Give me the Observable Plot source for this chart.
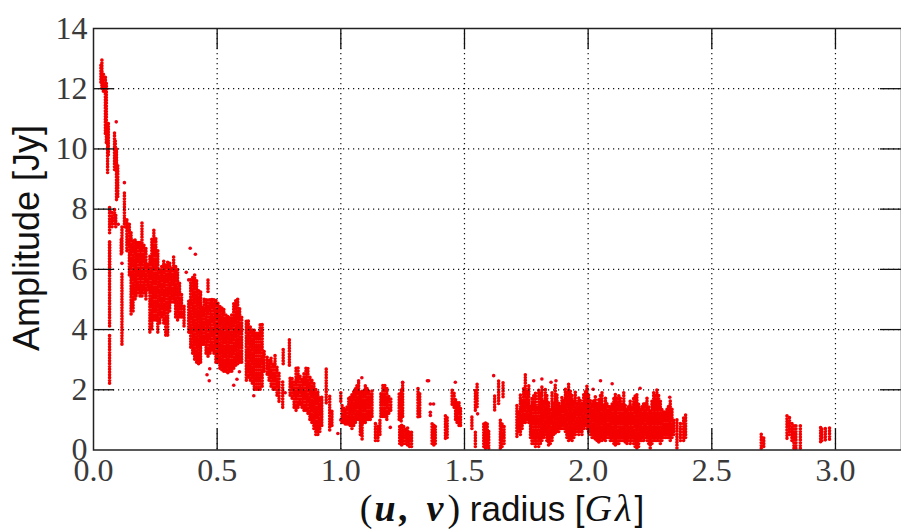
<!DOCTYPE html>
<html><head><meta charset="utf-8">
<script src="https://cdn.jsdelivr.net/npm/d3@7"></script>
<script src="https://cdn.jsdelivr.net/npm/@observablehq/plot@0.6"></script>
<style>html,body{margin:0;padding:0;background:#fff;overflow:hidden}</style>
</head><body><div id="chart"></div>
<script>
const xTicks = [0, 0.5, 1, 1.5, 2, 2.5, 3];
const yTicks = [0, 2, 4, 6, 8, 10, 12, 14];
// Vertical visibility tracks: radius, lowest and highest amplitude
const trackX = [.03,.034,.04,.048,.057,.065,.065,.065,.065,.085,.092,.093,.112,.115,.115,.125,.135,.145,.152,.16,.168,.172,.18,.188,.196,.204,.212,.22,.228,.236,.244,.252,.26,.268,.276,.284,.292,.3,.308,.316,.324,.332,.34,.348,.356,.366,.385,.393,.401,.409,.417,.425,.433,.441,.447,.455,.463,.463,.471,.479,.487,.495,.503,.511,.519,.527,.535,.543,.551,.559,.567,.575,.583,.591,.599,.618,.626,.634,.642,.65,.658,.666,.674,.682,.69,.702,.71,.718,.726,.734,.742,.75,.767,.765,.792,.795,.803,.811,.819,.827,.835,.843,.851,.859,.867,.875,.883,.891,.899,.907,.915,.923,.941,.955,.964,1.0,1.005,1.018,1.032,1.045,1.059,1.072,1.086,1.099,1.113,1.126,1.14,1.15,1.158,1.162,1.17,1.178,1.186,1.194,1.202,1.236,1.244,1.25,1.238,1.246,1.254,1.262,1.27,1.278,1.286,1.312,1.319,1.369,1.376,1.382,1.423,1.43,1.45,1.458,1.464,1.47,1.478,1.484,1.53,1.544,1.544,1.551,1.578,1.585,1.592,1.598,1.622,1.638,1.656,1.645,1.652,1.66,1.712,1.726,1.739,1.746,1.76,1.773,1.787,1.8,1.813,1.827,1.84,1.854,1.867,1.881,1.894,1.908,1.921,1.935,1.948,1.962,1.975,1.989,2.002,2.016,2.029,2.043,2.056,2.07,2.083,2.097,2.11,2.124,2.13,2.144,2.157,2.17,2.184,2.197,2.211,2.224,2.238,2.251,2.265,2.278,2.292,2.305,2.319,2.332,2.346,2.359,2.373,2.386,2.394,2.7,2.71,2.804,2.814,2.824,2.832,2.84,2.858,2.94,2.945,2.959,2.976];
const trackLow = [12.2,12,11.9,10.5,9.2,7.2,6.05,4.1,2.2,9.3,9.3,8.3,6.5,6.55,3.5,7.4,6.6,5.8,4.5,4.6,5,5.1,5.2,5.1,5.1,5.2,5,5.3,3.9,4,4.3,4.3,3.9,4.2,4.4,4.2,3.8,3.8,4.6,4.9,4.9,4.4,4.3,4.4,4.4,4.1,3.9,3.4,3.2,3,2.9,2.85,2.9,3.5,3.5,3.2,3.1,5.25,3.2,3.3,3.2,2.9,2.9,2.7,2.65,2.6,2.6,2.55,2.6,2.6,2.7,2.8,2.85,2.9,2.9,2.3,2.4,2.3,2.2,2,2,2,2,2.1,2.6,2.5,2.3,2.1,2,2,1.8,1.6,2.85,1.4,2.8,1.8,1.7,1.4,1.3,1.4,1.5,1.4,1.3,1.3,1.2,1,.9,.7,.5,.5,.6,.8,1.55,.65,.8,1.6,.9,.85,.85,.7,.9,1,.35,.9,1,1.1,.3,.3,.5,1.1,1.1,1.1,1,1.2,1.3,1,.95,1.1,.2,.15,.2,.2,.15,.1,.1,1.09,1.1,.2,.15,.2,.37,.4,1.5,1.4,1,.9,.8,.8,.7,1.3,.1,1.42,.1,.04,.1,.04,1.31,1.53,1.75,.04,.1,.2,.43,.5,.9,.9,.9,.2,.1,.1,.3,.5,.15,.3,.55,.6,.7,.6,.3,.3,.5,.5,.5,.8,.6,.4,.35,.25,.3,.3,.4,.3,.15,.2,.3,.3,.2,.2,.2,.05,.3,.3,.3,.05,.3,.3,.2,.4,.4,.3,.5,.05,.3,.3,.4,.04,.1,.37,.5,.3,.04,.04,.04,.26,.3,.32,.34];
const trackHigh = [12.8,13,12.5,12.4,10.8,8.05,6.9,6.95,3.8,10.6,10,10,7,7.4,5.85,8.6,7.7,7.5,7.2,7,7,6.9,6.9,6.9,7.6,6.8,6.7,6.2,6.5,7,7.3,7,6.6,6,6.1,6.3,6.2,6.3,6.2,6.1,6.4,6.1,6,5.6,5.2,4.8,5,5.7,5.8,5.85,5.6,5.3,5.3,4.8,5,5,5,5.7,5,5,5,5,4.9,4.8,4.7,4.7,4.5,4.5,4.4,4.5,4.9,5,5.05,4.7,4.4,4.3,4.3,4.1,4,4,3.9,3.9,4.2,4.2,3.3,3.1,3,3.05,2.9,3.2,2.8,2.6,3.4,2.3,3.7,2.45,2.4,2.3,2.7,2.75,2.5,2.4,2.6,2.75,2.7,2.4,2.35,2.2,2,1.9,1.8,1.8,2.7,1.8,1.35,1.9,1.5,1.4,1.75,1.9,2.1,2.3,2,2.2,2,2,.9,.85,1,1.9,2.2,2.2,2.1,1.8,1.7,1.9,2,2.25,.8,.85,.85,.75,.75,.6,.6,2.03,1.9,.87,.85,.8,1.15,1.1,2.05,1.9,1.7,1.6,1.6,1.4,1.15,2.03,.65,2.25,.92,.9,.92,.6,1.86,2.3,2.25,.98,.9,.85,1.5,1.86,2.1,2.55,2.2,1.7,1.9,2,2.1,2,1.6,1.9,2.2,1.6,1.8,2,2.2,1.8,1.9,1.8,1.6,2,1.9,1.6,1.8,1.7,1.9,1.7,1.5,1.6,1.9,1.8,1.7,1.9,1.4,1.6,1.7,1.9,1.4,1.6,1.7,1.3,1.9,2.05,1.6,1.3,1.4,1.65,1,1,.9,1.1,1.15,.54,.4,1.2,1.1,.9,.8,.8,.81,.76,.7,.76,.72];
// Tracks lying between the ones above, in the densest stretches
const fillX = [.052,.06,.075,.085,.088,.09,.098,1.012,1.025,1.038,1.052,1.065,1.079,1.092,1.106,1.119,1.72,1.733,1.753,1.767,1.78,1.793,1.807,1.82,1.833,1.847,1.86,1.874,1.887,1.901,1.914,1.928,1.942,1.955,1.968,1.982,1.995,2.009,2.022,2.036,2.05,2.063,2.076,2.09,2.104,2.117,2.137,2.15,2.163,2.177,2.19,2.204,2.217,2.231,2.245,2.258,2.271,2.285,2.298,2.312,2.325,2.339];
const fillLow = [10.2,9.8,7.4,7.5,9.5,7.4,8.4,.9,.85,.8,.8,1,.5,.9,1,1,.6,.7,1,.4,.2,.2,.2,.4,.3,.2,.5,.6,.7,.7,.4,.35,.4,.6,.6,.7,.7,.5,.4,.3,.3,.35,.4,.3,.2,.2,.3,.25,.3,.3,.1,.1,.3,.4,.2,.2,.3,.3,.3,.4,.4,.4];
const fillHigh = [12.2,10.9,7.9,8,10.3,7.8,9.5,1.4,1.5,1.8,2,2.2,1.9,2,2.1,1.9,1.3,1.7,2,1.5,1.8,1.5,1.9,1.7,1.8,1.4,1.6,1.9,1.5,1.7,1.9,2,1.7,1.6,1.7,1.9,2.1,1.7,1.7,1.6,1.8,1.5,1.6,1.5,1.7,1.7,1.6,1.5,1.5,1.5,1.8,1.5,1.5,1.6,1.5,1.6,1.8,1.8,1.4,1.3,1.5,1.4];
// Isolated points outside the tracks
const strayX = [.092,.115,.125,.069,.086,.1,.391,.412,.375,.385,.648,.459,.468,.47,.567,.58,.59,.775,.988,1.0,1.072,1.085,1.2,1.25,1.35,1.362,1.362,1.362,1.355,1.375,1.463,1.553,1.618,1.78,1.813,1.85,2.05,2.097,2.21,2.02,2.33,1.87];
const strayY = [10.9,6.2,8.88,7.9,7.7,7.5,6.7,6.5,5.9,5.65,1.8,2.5,2.3,2.7,2.15,2.35,2.6,1.9,.55,1,2.3,2.4,.75,2.25,2.3,1.53,1.25,1.15,2.3,1.53,2.25,1.2,2.47,2.3,2.36,2.25,2.3,2.2,2.05,2.02,1.75,2.3];

const tracks = trackX.map((x, i) => ({x, lo: trackLow[i], hi: trackHigh[i]}))
  .concat(fillX.map((x, i) => ({x, lo: fillLow[i], hi: fillHigh[i]})));
const strays = strayX.map((x, i) => ({x, y: strayY[i]}));

const plot = Plot.plot({
  width: 901, height: 531,
  marginLeft: 93, marginRight: 0, marginTop: 28, marginBottom: 81.5,
  style: {background: "#fff", overflow: "hidden"},
  x: {domain: [0, 3.267], ticks: xTicks},
  y: {domain: [0, 14], ticks: yTicks},
  marks: [
    Plot.ruleX(tracks, {x: "x", y1: "lo", y2: "hi", stroke: "#f40000", strokeWidth: 3.6, strokeLinecap: "round", strokeDasharray: "0.1 2.7"}),
    Plot.dot(strays, {x: "x", y: "y", r: 1.8, fill: "#ee0010"}),
    Plot.ruleX(xTicks.slice(1), {stroke: "#111", strokeWidth: 1.2, strokeDasharray: "1.2 3.8"}),
    Plot.ruleY(yTicks.slice(1, -1), {stroke: "#111", strokeWidth: 1.2, strokeDasharray: "1.2 3.8"}),
    Plot.ruleX(xTicks.slice(1), {y1: 0, y2: 0.7, stroke: "#111", strokeWidth: 1.3}),
    Plot.ruleX(xTicks.slice(1), {y1: 14, y2: 13.3, stroke: "#111", strokeWidth: 1.3}),
    Plot.ruleY(yTicks.slice(1, -1), {x1: 0, x2: 0.085, stroke: "#111", strokeWidth: 1.3}),
    Plot.ruleY(yTicks.slice(1, -1), {x1: 3.267, x2: 3.182, stroke: "#111", strokeWidth: 1.3}),
    Plot.frame({stroke: "#222", strokeWidth: 1.5}),
    Plot.axisX(xTicks, {tickSize: 0, tickPadding: 8, tickFormat: d3.format(".1f"), label: null, fontSize: 32, fontFamily: "Liberation Serif", fill: "#3a3a3a"}),
    Plot.axisY(yTicks, {tickSize: 0, tickPadding: 6, label: null, fontSize: 32, fontFamily: "Liberation Serif", fill: "#3a3a3a"})
  ]
});
const svg = d3.select(plot);
svg.append("text").attr("transform", "translate(39,238) rotate(-90)")
  .attr("text-anchor", "middle").attr("font-family", "Liberation Sans").attr("font-size", 36).attr("fill", "#111")
  .text("Amplitude [Jy]");
const xl = svg.append("text").attr("x", 502).attr("y", 521).attr("text-anchor", "middle")
  .attr("font-family", "Liberation Sans").attr("font-size", 35).attr("fill", "#111");
const serif = (s, w, st, ls) => xl.append("tspan").attr("font-family", "Liberation Serif").attr("font-size", 38)
  .attr("font-weight", w).attr("font-style", st).attr("letter-spacing", ls).text(s);
serif("(", "normal", "normal", 2);
serif("u, v", "bold", "italic", 4);
serif(")", "normal", "normal", 0);
xl.append("tspan").text(" radius ");
xl.append("tspan").text("[");
serif("Gλ", "normal", "italic", 3);
xl.append("tspan").text("]");
document.getElementById("chart").append(plot);
</script></body></html>
